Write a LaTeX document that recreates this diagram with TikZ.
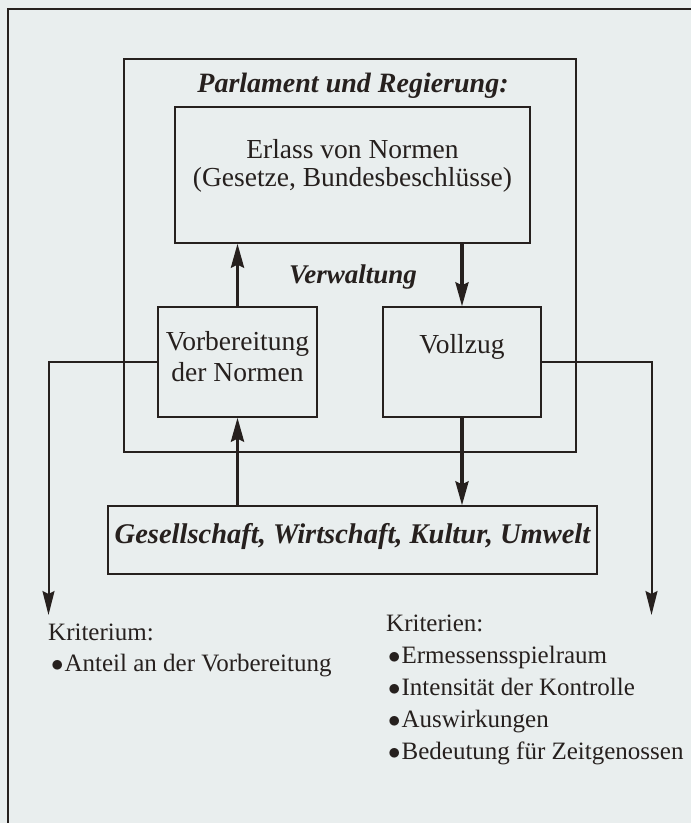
\documentclass[tikz,border=0pt]{standalone}
\usepackage{fontspec}
\setmainfont{Liberation Serif}
\usepackage{tikz}
\usetikzlibrary{arrows.meta,positioning,calc}
\usepackage{xcolor}
\definecolor{scanInk}{RGB}{38,32,30}
\definecolor{scanPaper}{RGB}{233,238,238}
\tikzset{
    % Box styles
    normbox/.style={rectangle,draw=scanInk,line width=1.3pt,inner sep=0pt,align=center,
        text height=19pt,font=\fontsize{27.5}{30}\selectfont},
    framebox/.style={rectangle,draw=scanInk,line width=1.3pt,inner sep=0pt},
    headline/.style={inner sep=0pt,anchor=base,font=\fontsize{28}{30}\selectfont\bfseries\itshape},
    critlist/.style={inner sep=0pt,anchor=base west,align=left,font=\fontsize{25}{32}\selectfont},
    % Flow styles
    bigflow/.style={-{Stealth[length=24pt,width=13pt,inset=3pt]},line width=3.5pt,scanInk},
    sideflow/.style={-{Stealth[length=24pt,width=12pt,inset=3pt]},line width=2pt,scanInk},
    pageline/.style={line width=1.2pt,scanInk}
}
\newcommand{\critdot}{$\bullet$}
\begin{document}
\begin{tikzpicture}[x=1pt,y=-1pt,text=scanInk]
    \fill[scanPaper] (0,0) rectangle (691,823);
    \useasboundingbox (0,0) rectangle (691,823);

    % Page frame
    \draw[pageline] (691,9) -- (8,9) -- (8,823);

    % Parliament and government
    \node[framebox,minimum width=452pt,minimum height=393pt] (parl) at (350,255.5) {};
    \node[headline] (parltitle) at (353,92) {Parlament und Regierung:};
    \node[normbox,minimum width=355pt,minimum height=136pt,text height=47pt,text depth=25pt,
        font=\fontsize{27.5}{28}\selectfont] (erlass) at (352.5,175)
        {Erlass von Normen\\(Gesetze, Bundesbeschlüsse)};

    % Administration
    \node[headline,font=\fontsize{27}{30}\selectfont\bfseries\itshape] (verwaltung) at (353,283) {Verwaltung};
    \node[normbox,minimum width=159pt,minimum height=110pt,text height=50pt,text depth=12pt,
        font=\fontsize{27.5}{31}\selectfont] (vorb) at (237.5,362)
        {Vorbereitung\\der Normen};
    \node[normbox,minimum width=158pt,minimum height=110pt,text depth=37pt] (vollzug) at (462,362)
        {Vollzug};

    % Society
    \node[normbox,minimum width=489pt,minimum height=68pt,text depth=13pt,
        font=\fontsize{28.5}{30}\selectfont\bfseries\itshape] (gesell) at (352.5,540)
        {Gesellschaft, Wirtschaft, Kultur, Umwelt};

    % Flows between the levels
    \draw[bigflow] (vorb.north) -- (vorb.north |- erlass.south);
    \draw[bigflow] (erlass.south -| vollzug.north) -- (vollzug.north);
    \draw[bigflow] (gesell.north -| vorb.south) -- (vorb.south);
    \draw[bigflow] (vollzug.south) -- (vollzug.south |- gesell.north);

    % Criteria
    \coordinate (leftend) at (48.5,615);
    \coordinate (rightend) at (651.5,615);
    \draw[sideflow] (vorb.west) -| (leftend);
    \draw[sideflow] (vollzug.east) -| (rightend);

    \node[critlist,font=\fontsize{25}{31}\selectfont] (kritleft) at (48,671)
        {Kriterium:\\\hspace{3pt}\critdot\kern1pt Anteil an der Vorbereitung};
    \node[critlist] (kritright) at (386,759)
        {Kriterien:\\
        \hspace{2pt}\critdot\kern1pt Ermessensspielraum\\
        \hspace{2pt}\critdot\kern1pt Intensität der Kontrolle\\
        \hspace{2pt}\critdot\kern1pt Auswirkungen\\
        \hspace{2pt}\critdot\kern1pt Bedeutung für Zeitgenossen};
\end{tikzpicture}
\end{document}
